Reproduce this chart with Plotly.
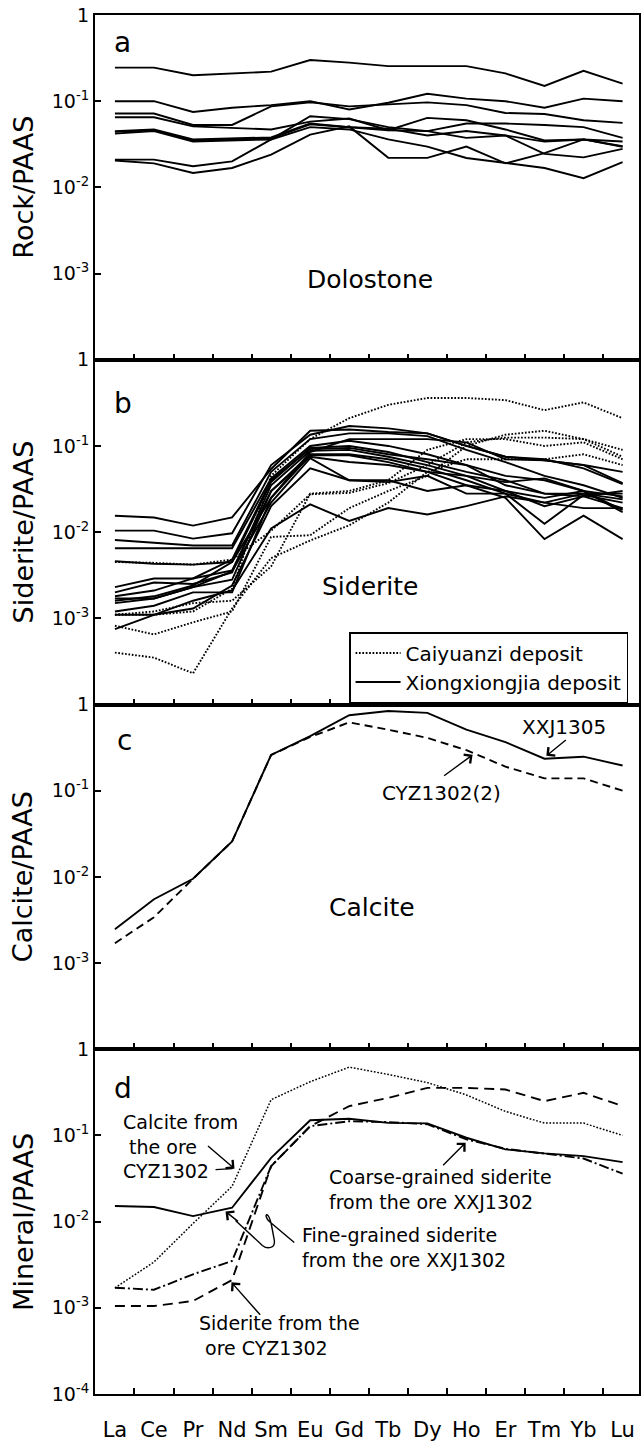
import plotly.graph_objects as go
from plotly.subplots import make_subplots

REE = ["La", "Ce", "Pr", "Nd", "Sm", "Eu", "Gd", "Tb", "Dy", "Ho", "Er", "Tm", "Yb", "Lu"]
IDX = list(range(len(REE)))

# ---- panel a : dolostone / PAAS ----
dolostone = [
    [0.245, 0.245, 0.2, 0.21, 0.22, 0.3, 0.28, 0.255, 0.255, 0.255, 0.21, 0.15, 0.225, 0.16],
    [0.1, 0.1, 0.075, 0.084, 0.09, 0.1, 0.08, 0.096, 0.122, 0.107, 0.1, 0.084, 0.107, 0.1],
    [0.072, 0.072, 0.053, 0.053, 0.087, 0.097, 0.087, 0.092, 0.097, 0.09, 0.073, 0.071, 0.06, 0.056],
    [0.065, 0.065, 0.051, 0.049, 0.047, 0.058, 0.063, 0.046, 0.064, 0.06, 0.047, 0.035, 0.036, 0.0296],
    [0.044, 0.046, 0.035, 0.036, 0.037, 0.054, 0.05, 0.046, 0.045, 0.0375, 0.04, 0.0245, 0.0223, 0.028],
    [0.042, 0.045, 0.034, 0.035, 0.036, 0.05, 0.047, 0.036, 0.0297, 0.0219, 0.0192, 0.0168, 0.0128, 0.0196],
    [0.021, 0.021, 0.0176, 0.02, 0.036, 0.067, 0.062, 0.05, 0.045, 0.055, 0.055, 0.053, 0.05, 0.0375],
    [0.0205, 0.019, 0.0147, 0.0168, 0.024, 0.041, 0.051, 0.022, 0.022, 0.0297, 0.019, 0.025, 0.036, 0.03],
    [0.045, 0.047, 0.036, 0.037, 0.038, 0.055, 0.05, 0.048, 0.04, 0.045, 0.04, 0.034, 0.036, 0.034],
]

# ---- panel b : siderite / PAAS ----
siderite_cyz = [
    [0.0011, 0.0011, 0.0012, 0.0022, 0.045, 0.12, 0.21, 0.3, 0.36, 0.36, 0.34, 0.26, 0.32, 0.21],
    [0.0045, 0.0044, 0.0042, 0.0048, 0.0104, 0.0275, 0.0285, 0.037, 0.06, 0.11, 0.125, 0.125, 0.12, 0.075],
    [0.00082, 0.00065, 0.0009, 0.0012, 0.0088, 0.0092, 0.019, 0.03, 0.045, 0.1, 0.135, 0.15, 0.12, 0.09],
    [0.0004, 0.00035, 0.00023, 0.0013, 0.005, 0.008, 0.012, 0.022, 0.05, 0.07, 0.07, 0.07, 0.08, 0.06],
    [0.0011, 0.0012, 0.0015, 0.0016, 0.004, 0.028, 0.03, 0.04, 0.09, 0.12, 0.12, 0.1, 0.11, 0.07],
]
siderite_xxj = [
    [0.0155, 0.0148, 0.0119, 0.0148, 0.054, 0.15, 0.155, 0.145, 0.14, 0.1, 0.075, 0.068, 0.06, 0.05],
    [0.0104, 0.0104, 0.0084, 0.0097, 0.06, 0.135, 0.17, 0.16, 0.14, 0.1, 0.075, 0.07, 0.055, 0.036],
    [0.0081, 0.0076, 0.007, 0.007, 0.05, 0.12, 0.14, 0.14, 0.13, 0.09, 0.065, 0.045, 0.035, 0.025],
    [0.0065, 0.0065, 0.0065, 0.0065, 0.042, 0.1, 0.115, 0.1, 0.08, 0.06, 0.045, 0.04, 0.03, 0.018],
    [0.0046, 0.0043, 0.0042, 0.0045, 0.038, 0.095, 0.1, 0.085, 0.065, 0.05, 0.04, 0.028, 0.026, 0.019],
    [0.0023, 0.0029, 0.0029, 0.0048, 0.04, 0.092, 0.095, 0.08, 0.07, 0.06, 0.035, 0.028, 0.028, 0.024],
    [0.002, 0.0026, 0.0025, 0.0034, 0.035, 0.088, 0.09, 0.075, 0.06, 0.045, 0.03, 0.025, 0.03, 0.026],
    [0.0018, 0.0021, 0.0029, 0.0036, 0.03, 0.08, 0.08, 0.07, 0.055, 0.04, 0.028, 0.022, 0.028, 0.028],
    [0.0016, 0.0018, 0.0024, 0.0045, 0.025, 0.078, 0.078, 0.065, 0.05, 0.035, 0.03, 0.02, 0.026, 0.03],
    [0.0015, 0.0017, 0.0023, 0.0035, 0.022, 0.072, 0.04, 0.038, 0.045, 0.028, 0.028, 0.0125, 0.027, 0.022],
    [0.0011, 0.0011, 0.0013, 0.0024, 0.02, 0.055, 0.04, 0.04, 0.03, 0.035, 0.025, 0.0083, 0.0155, 0.0083],
    [0.00075, 0.0011, 0.0016, 0.0021, 0.011, 0.021, 0.0135, 0.019, 0.016, 0.02, 0.026, 0.022, 0.019, 0.019],
    [0.0017, 0.0017, 0.0023, 0.0028, 0.03, 0.075, 0.065, 0.06, 0.05, 0.045, 0.038, 0.042, 0.03, 0.017],
    [0.0012, 0.0014, 0.002, 0.002, 0.025, 0.085, 0.12, 0.12, 0.12, 0.11, 0.07, 0.068, 0.06, 0.037],
]

# ---- panel c : calcite / PAAS ----
calcite_xxj1305 = [0.00247, 0.0055, 0.0095, 0.0257, 0.26, 0.43, 0.75, 0.84, 0.8, 0.51, 0.366, 0.235, 0.248, 0.196]
calcite_cyz1302 = [0.0017, 0.0034, 0.0095, 0.0257, 0.26, 0.42, 0.62, 0.51, 0.41, 0.295, 0.19, 0.139, 0.139, 0.1]

# ---- panel d : minerals / PAAS ----
coarse_sid_xxj1302 = [0.0152, 0.0148, 0.0116, 0.0145, 0.055, 0.15, 0.156, 0.14, 0.138, 0.094, 0.069, 0.062, 0.0575, 0.049]
fine_sid_xxj1302 = [0.00171, 0.00162, 0.00245, 0.0035, 0.044, 0.128, 0.146, 0.143, 0.135, 0.09, 0.07, 0.062, 0.054, 0.036]
sid_cyz1302 = [0.00105, 0.00105, 0.0012, 0.0021, 0.044, 0.128, 0.219, 0.273, 0.356, 0.356, 0.341, 0.25, 0.312, 0.219]

YT_TEXT = {1: "1", 0.1: "10<sup>-1</sup>", 0.01: "10<sup>-2</sup>", 0.001: "10<sup>-3</sup>", 0.0001: "10<sup>-4</sup>"}

FONT = "DejaVu Sans"
W, H = 643, 1444
L, R, T, B = 95, 641, 15, 1398


def px(x):
    return (x - L) / (R - L)


def py(y):
    return (B - y) / (B - T)


fig = make_subplots(rows=4, cols=1, vertical_spacing=0, shared_xaxes=False)

LW = 1.9
DOT = "1.7px,1.7px"

for s in dolostone:
    fig.add_trace(go.Scatter(x=IDX, y=s, mode="lines", line=dict(color="black", width=LW),
                             showlegend=False, hoverinfo="skip"), row=1, col=1)

for i, s in enumerate(siderite_cyz):
    fig.add_trace(go.Scatter(x=IDX, y=s, mode="lines", name="Caiyuanzi deposit", legendgroup="cyz",
                             line=dict(color="black", width=1.9, dash=DOT),
                             showlegend=(i == 0), hoverinfo="skip"), row=2, col=1)
for i, s in enumerate(siderite_xxj):
    fig.add_trace(go.Scatter(x=IDX, y=s, mode="lines", name="Xiongxiongjia deposit", legendgroup="xxj",
                             line=dict(color="black", width=LW),
                             showlegend=(i == 0), hoverinfo="skip"), row=2, col=1)

fig.add_trace(go.Scatter(x=IDX, y=calcite_xxj1305, mode="lines", line=dict(color="black", width=LW),
                         showlegend=False), row=3, col=1)
fig.add_trace(go.Scatter(x=IDX, y=calcite_cyz1302, mode="lines", line=dict(color="black", width=LW, dash="8px,5px"),
                         showlegend=False), row=3, col=1)

fig.add_trace(go.Scatter(x=IDX, y=calcite_cyz1302, mode="lines", line=dict(color="black", width=1.5, dash=DOT),
                         showlegend=False), row=4, col=1)
fig.add_trace(go.Scatter(x=IDX, y=sid_cyz1302, mode="lines", line=dict(color="black", width=LW, dash="10px,6px"),
                         showlegend=False), row=4, col=1)
fig.add_trace(go.Scatter(x=IDX, y=coarse_sid_xxj1302, mode="lines", line=dict(color="black", width=LW),
                         showlegend=False), row=4, col=1)
fig.add_trace(go.Scatter(x=IDX, y=fine_sid_xxj1302, mode="lines",
                         line=dict(color="black", width=LW, dash="10px,3px,2px,3px"),
                         showlegend=False), row=4, col=1)

x_range = [-0.51, 13.42]
titles = ["Rock/PAAS", "Siderite/PAAS", "Calcite/PAAS", "Mineral/PAAS"]
for r in range(1, 5):
    last = (r == 4)
    fig.update_xaxes(row=r, col=1, range=x_range, tickmode="array", tickvals=IDX,
                     ticktext=REE, showticklabels=last, ticks="",
                     tickfont=dict(family=FONT, size=21, color="black"),
                     ticklabelstandoff=16,
                     minor=dict(tickmode="array", tickvals=[i + 0.5 for i in range(13)], ticks="inside",
                                ticklen=6, tickwidth=1.5, tickcolor="black", showgrid=False),
                     showline=True, linecolor="black", linewidth=2, mirror=True, showgrid=False,
                     zeroline=False)
    tv = [1, 0.1, 0.01, 0.001] + ([0.0001] if last else [])
    fig.update_yaxes(row=r, col=1, type="log", range=[-4, 0], tickmode="array", tickvals=tv,
                     ticktext=[YT_TEXT[v] for v in tv], ticks="inside", ticklen=6, tickwidth=1.5,
                     tickcolor="black", tickfont=dict(family=FONT, size=19, color="black"),
                     showline=True, linecolor="black", linewidth=2, mirror=True, showgrid=False,
                     zeroline=False)

ann = []


def text(x, y, s, size=20, xanchor="center", align="center"):
    ann.append(dict(x=px(x), y=py(y), xref="paper", yref="paper", text=s, showarrow=False,
                    xanchor=xanchor, yanchor="middle", align=align,
                    font=dict(family=FONT, size=size, color="black")))


def arrow(x0, y0, x1, y1):
    # tail (x0, y0) -> head (x1, y1), pixel positions
    ann.append(dict(x=px(x1), y=py(y1), xref="paper", yref="paper", text="", showarrow=True,
                    ax=x0 - x1, ay=y0 - y1, axref="pixel", ayref="pixel",
                    arrowhead=4, arrowsize=1.5, arrowwidth=1.4, arrowcolor="black"))


# y titles
for r, t in enumerate(titles):
    yc = T + (B - T) / 4 * (r + 0.5)
    ann.append(dict(x=px(23), y=py(yc), xref="paper", yref="paper", text=t, showarrow=False,
                    textangle=-90, xanchor="center", yanchor="middle",
                    font=dict(family=FONT, size=27, color="black")))

# panel letters & names
text(123, 43, "a", 28)
text(123, 405, "b", 28)
text(125, 743, "c", 28)
text(123, 1092, "d", 28)
text(371, 280, "Dolostone", 25)
text(371, 588, "Siderite", 25)
text(373, 910, "Calcite", 25)

# panel c labels
text(566, 729, "XXJ1305", 20)
arrow(569, 741, 548, 758)
text(443, 795, "CYZ1302(2)", 20)
arrow(444, 779, 474, 757)

# panel d labels (multi-line blocks)
text(121, 1150, "Calcite from<br> the ore<br>CYZ1302", 19, "left", "left")
arrow(207, 1148, 235, 1172)
text(328, 1193, "Coarse-grained siderite<br>from the ore XXJ1302", 19, "left", "left")
arrow(443, 1170, 467, 1146)
text(301, 1251, "Fine-grained siderite<br>from the ore XXJ1302", 19, "left", "left")
text(197, 1339, "Siderite from the<br> ore CYZ1302", 19, "left", "left")
arrow(262, 1320, 232, 1286)
arrow(240, 1226, 226, 1215)

shapes = []
# CYZ1302 extra stroke toward arrow
shapes.append(dict(type="line", xref="paper", yref="paper", x0=px(216), y0=py(1173), x1=px(233), y1=py(1172),
                   line=dict(color="black", width=1.4)))


def P(x, y):
    return f"{px(x):.5f},{py(y):.5f}"


squiggle = (f"M{P(295, 1246)} L{P(270, 1225)} C{P(263, 1218)} {P(269, 1213)} {P(272, 1228)} "
            f"L{P(275, 1244)} C{P(276, 1252)} {P(268, 1253)} {P(263, 1249)} L{P(236, 1224)}")
shapes.append(dict(type="path", xref="paper", yref="paper", path=squiggle, line=dict(color="black", width=1.4)))

fig.update_layout(
    width=W, height=H, plot_bgcolor="white", paper_bgcolor="white",
    margin=dict(l=L, r=W - R, t=T, b=H - B),
    annotations=ann, shapes=shapes,
    legend=dict(x=px(350), y=py(705), xanchor="left", yanchor="bottom", xref="paper", yref="paper",
                bgcolor="white", bordercolor="black", borderwidth=1.5, itemwidth=45,
                font=dict(family=FONT, size=20, color="black"), tracegroupgap=0),
    font=dict(family=FONT, color="black"),
)

fig.write_html("out.html")
